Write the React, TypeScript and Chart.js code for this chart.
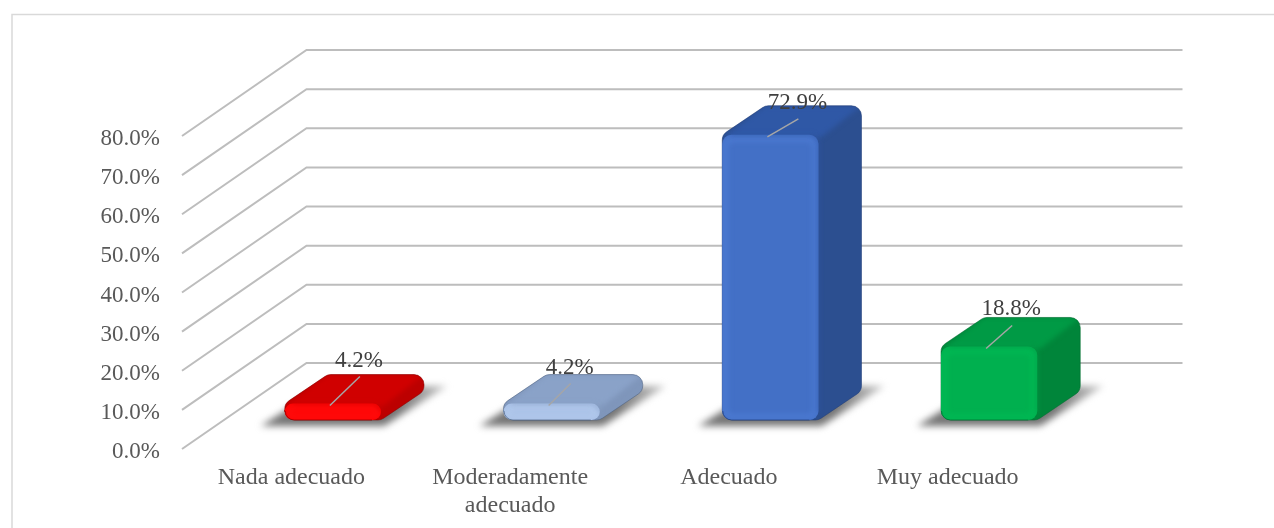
import React, { useEffect, useRef } from "react";
import { Chart, registerables } from "chart.js";

Chart.register(...registerables);

const categories = ["Nada adecuado", ["Moderadamente", "adecuado"], "Adecuado", "Muy adecuado"];
const values = [4.2, 4.2, 72.9, 18.8];
const valueLabels = ["4.2%", "4.2%", "72.9%", "18.8%"];
const frontColors = ["#ff0000", "#a6bfe6", "#4370c6", "#00b04f"];
const topColors = ["#d00000", "#8aa2c8", "#2f58a6", "#009a45"];
const sideColors = ["#bc0000", "#7f96bb", "#2c4f90", "#00853a"];
const edgeColors = ["#8c0000", "#4d6180", "#1f3c78", "#006b30"];
const glowColors = ["#ff2020", "#c4d8f6", "#5a8ae6", "#00c85c"];

const FONT = '"Liberation Serif", "Times New Roman", serif';
const TICK_SHIFT = 3;
const DEPTH_X = 124.5;
const DEPTH_Y = -86;
const BAR_DX = 41.5;
const BAR_DY = -32;
const SIDE_DX = 43;
const SIDE_DY = -29;
const RADIUS = 10;
// label nudges [x from bar centre, y above value]
const labelNudgeX = [26, 18, 27, 22];
const labelNudgeY = [13, 6, 2, 7];

function roundedPoly(ctx: CanvasRenderingContext2D, pts: number[][], r: number) {
  const n = pts.length;
  const a = pts[n - 1];
  const b = pts[0];
  ctx.beginPath();
  ctx.moveTo((a[0] + b[0]) / 2, (a[1] + b[1]) / 2);
  for (let i = 0; i < n; i++) {
    const p = pts[i];
    const q = pts[(i + 1) % n];
    ctx.arcTo(p[0], p[1], q[0], q[1], r);
  }
  ctx.closePath();
}

const scene3d = {
  id: "scene3d",
  beforeDraw(chart: any) {
    const { ctx, width, height } = chart;
    ctx.save();
    ctx.fillStyle = "#ffffff";
    ctx.fillRect(0, 0, width, height);
    ctx.strokeStyle = "#d9d9d9";
    ctx.lineWidth = 1.5;
    ctx.beginPath();
    ctx.moveTo(12, height);
    ctx.lineTo(12, 14.5);
    ctx.lineTo(width, 14.5);
    ctx.stroke();
    const y = chart.scales.y;
    const area = chart.chartArea;
    ctx.strokeStyle = "#bdbdbd";
    ctx.lineWidth = 2;
    y.ticks.forEach((t: any) => {
      const py = y.getPixelForValue(t.value) - TICK_SHIFT;
      ctx.beginPath();
      ctx.moveTo(area.left, py);
      ctx.lineTo(area.left + DEPTH_X, py + DEPTH_Y);
      ctx.lineTo(area.right + DEPTH_X + 1, py + DEPTH_Y);
      ctx.stroke();
    });
    ctx.restore();
  },
  beforeDatasetsDraw(chart: any) {
    const { ctx } = chart;
    const bars = chart.getDatasetMeta(0).data;
    ctx.save();
    ctx.translate(BAR_DX, BAR_DY);
    bars.forEach((bar: any, i: number) => {
      const L = bar.x - bar.width / 2;
      const R = bar.x + bar.width / 2;
      const T = bar.y;
      const B = bar.base;
      // floor shadow, fading away from the bar
      ctx.save();
      ctx.filter = "blur(3.5px)";
      const grad = ctx.createLinearGradient(R + 15, 0, R + 72, 0);
      grad.addColorStop(0, "#757575");
      grad.addColorStop(1, "#d4d4d4");
      ctx.fillStyle = grad;
      ctx.beginPath();
      ctx.moveTo(L - 24, B + 6);
      ctx.lineTo(R + 3, B + 6);
      ctx.lineTo(R + 66, B - 34);
      ctx.lineTo(L + 40, B - 34);
      ctx.closePath();
      ctx.fill();
      ctx.restore();
      // body silhouette
      const outline = [
        [L, B],
        [R, B],
        [R + SIDE_DX, B + SIDE_DY],
        [R + SIDE_DX, T + SIDE_DY],
        [L + SIDE_DX, T + SIDE_DY],
        [L, T],
      ];
      roundedPoly(ctx, outline, RADIUS);
      ctx.fillStyle = sideColors[i];
      ctx.fill();
      ctx.save();
      roundedPoly(ctx, outline, RADIUS);
      ctx.clip();
      ctx.filter = "blur(2.5px)";
      ctx.fillStyle = topColors[i];
      ctx.beginPath();
      ctx.moveTo(L, T + 3);
      ctx.lineTo(R + 2, T + 3);
      ctx.lineTo(R + SIDE_DX, T + SIDE_DY);
      ctx.lineTo(L + SIDE_DX, T + SIDE_DY);
      ctx.closePath();
      ctx.fill();
      ctx.restore();
      ctx.save();
      ctx.globalAlpha = 0.55;
      roundedPoly(ctx, outline, RADIUS);
      ctx.strokeStyle = edgeColors[i];
      ctx.lineWidth = 1;
      ctx.stroke();
      ctx.restore();
    });
    // the translation stays on for the library's own front faces
    ctx.save();
  },
  afterDatasetsDraw(chart: any) {
    const { ctx } = chart;
    const bars = chart.getDatasetMeta(0).data;
    bars.forEach((bar: any, i: number) => {
      const L = bar.x - bar.width / 2;
      const R = bar.x + bar.width / 2;
      const T = bar.y;
      const B = bar.base;
      const h = B - T;
      // soft bevel on the front face
      ctx.save();
      ctx.beginPath();
      ctx.roundRect(L, T, bar.width, h, 9);
      ctx.clip();
      ctx.filter = "blur(3px)";
      ctx.globalAlpha = 0.75;
      ctx.strokeStyle = glowColors[i];
      ctx.lineWidth = 3;
      ctx.beginPath();
      ctx.roundRect(L + 3, T + 4, bar.width - 6, Math.max(h - 7, 4), 6);
      ctx.stroke();
      ctx.restore();
      // blurred seam between the front face and the faces behind it
      ctx.save();
      ctx.filter = "blur(2px)";
      ctx.globalAlpha = 0.55;
      ctx.strokeStyle = topColors[i];
      ctx.lineWidth = 3;
      ctx.beginPath();
      ctx.moveTo(L + 8, T);
      ctx.lineTo(R - 6, T);
      ctx.lineTo(R, T + 6);
      ctx.lineTo(R, B - 8);
      ctx.stroke();
      ctx.restore();
      // dark lower edge
      ctx.save();
      ctx.globalAlpha = 0.7;
      ctx.strokeStyle = edgeColors[i];
      ctx.lineWidth = 1;
      ctx.beginPath();
      ctx.moveTo(L + 0.5, B - 9);
      ctx.arcTo(L + 0.5, B, L + 9, B, 9);
      ctx.lineTo(R - 9, B);
      ctx.stroke();
      ctx.restore();
    });
    ctx.restore();
    ctx.restore();
    // data labels and their leader lines
    ctx.save();
    ctx.font = `23px ${FONT}`;
    ctx.textAlign = "center";
    ctx.textBaseline = "middle";
    bars.forEach((bar: any, i: number) => {
      const cx = bar.x + BAR_DX;
      const topY = bar.y + BAR_DY;
      const lx = cx + labelNudgeX[i];
      const ly = topY - 30 - labelNudgeY[i];
      ctx.strokeStyle = "#a6a6a6";
      ctx.lineWidth = 1.5;
      ctx.beginPath();
      ctx.moveTo(cx - 3, topY + 2);
      ctx.lineTo(lx + 1, ly + 16);
      ctx.stroke();
      ctx.fillStyle = "#404040";
      ctx.fillText(valueLabels[i], lx, ly);
    });
    ctx.restore();
  },
};

export default function App() {
  const ref = useRef<HTMLCanvasElement>(null);
  useEffect(() => {
    const chart = new Chart(ref.current as HTMLCanvasElement, {
      type: "bar",
      data: {
        labels: categories as any,
        datasets: [
          {
            data: values,
            backgroundColor: frontColors,
            borderWidth: 0,
            borderRadius: 9,
            borderSkipped: false,
            barPercentage: 0.44,
            categoryPercentage: 1,
          },
        ],
      },
      options: {
        responsive: false,
        animation: false,
        layout: { padding: { left: 0, top: 136 + TICK_SHIFT, right: 217, bottom: 0 } },
        plugins: { legend: { display: false }, tooltip: { enabled: false } },
        scales: {
          x: {
            grid: { display: false, drawTicks: false },
            border: { display: false },
            afterFit: (s: any) => {
              s.height = 79 - TICK_SHIFT;
            },
            ticks: {
              color: "#595959",
              font: { family: FONT, size: 24, lineHeight: 1.17 },
              padding: 12,
              autoSkip: false,
              maxRotation: 0,
              minRotation: 0,
            },
          },
          y: {
            min: 0,
            max: 80,
            grid: { display: false, drawTicks: false },
            border: { display: false },
            afterFit: (s: any) => {
              s.width = 182;
            },
            ticks: {
              stepSize: 10,
              color: "#595959",
              font: { family: FONT, size: 23 },
              padding: 22,
              callback: (v: any) => Number(v).toFixed(1) + "%",
            },
          },
        },
      },
      plugins: [scene3d],
    });
    return () => chart.destroy();
  }, []);
  return (
    <div style={{ position: "absolute", left: 0, top: 0, width: 1274, height: 528 }}>
      <canvas ref={ref} width={1274} height={528} style={{ display: "block" }} />
    </div>
  );
}
